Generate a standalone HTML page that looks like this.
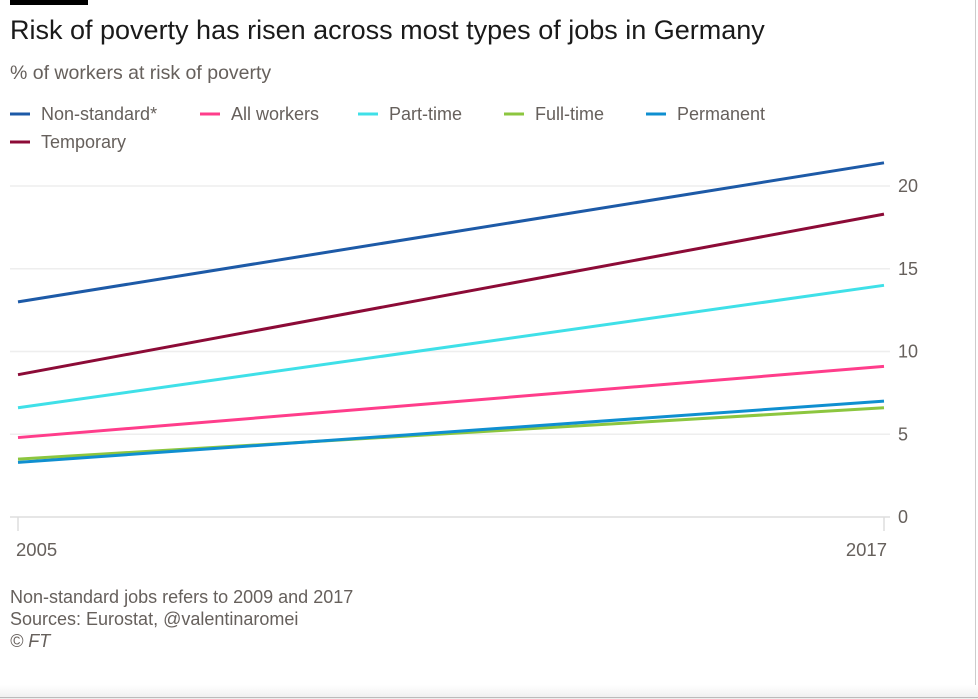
<!DOCTYPE html>
<html><head><meta charset="utf-8"><style>
body{margin:0;background:#fff;}
#wrap{position:relative;width:978px;height:699px;overflow:hidden;background:#fff;font-family:"Liberation Sans",sans-serif;}
.t{position:absolute;white-space:nowrap;}
</style></head><body>
<div id="wrap">
<div style="position:absolute;left:10px;top:0;width:78px;height:5px;background:#000"></div>
<div class="t" style="left:10px;top:15px;font-size:27px;color:#1a1a1a">Risk of poverty has risen across most types of jobs in Germany</div>
<div class="t" style="left:10px;top:62px;font-size:19.5px;color:#66605c">% of workers at risk of poverty</div>
<svg id="chart" width="978" height="699" style="position:absolute;left:0;top:0"></svg>
<div class="t" style="left:10px;top:586px;font-size:18px;color:#66605c;line-height:22px">Non-standard jobs refers to 2009 and 2017<br>Sources: Eurostat, @valentinaromei<br><i>© FT</i></div>
<div style="position:absolute;right:2px;top:0;width:1px;height:699px;background:#ccc"></div>
<div style="position:absolute;left:0;bottom:0;width:978px;height:14px;background:linear-gradient(#fff,#eee)"></div>
<div style="position:absolute;left:0;bottom:1px;width:978px;height:1px;background:#bbb"></div>
</div>
<script>
const years=[2005,2017];
const seriesNames=["Non-standard*","All workers","Part-time","Full-time","Permanent","Temporary"];
const nonStandard=[13.0,21.4];
const allWorkers=[4.8,9.1];
const partTime=[6.6,14.0];
const fullTime=[3.5,6.6];
const permanent=[3.3,7.0];
const temporary=[8.6,18.3];
const yTicks=[0,5,10,15,20];
const xTickLabels=["2005","2017"];
const colors=["#1d5aa7","#ff3d8b","#3fe0e8","#8cc63f","#0f8fd0","#8c0b37"];
const seriesData=[nonStandard,allWorkers,partTime,fullTime,permanent,temporary];
const NS="http://www.w3.org/2000/svg";
const svg=document.getElementById('chart');
const x=v=>18+(v-2005)/(2017-2005)*866;
const y=v=>517-v*16.55;
function mk(tag,at){const e=document.createElementNS(NS,tag);for(const k in at)e.setAttribute(k,at[k]);svg.appendChild(e);return e;}
yTicks.forEach(t=>{
 const l=mk('line',{x1:10,x2:890,y1:y(t),y2:y(t),stroke:t===0?'#ddd':'#eee','stroke-width':1.5});
 
 
 const tx=mk('text',{x:898,y:y(t)+6,'font-size':18,fill:'#66605c','font-family':'Liberation Sans, sans-serif'});
 tx.textContent=t;
 
 
});
years.forEach((yr,i)=>{
 const l=mk('line',{x1:x(yr),x2:x(yr),y1:517,y2:531,stroke:'#ddd','stroke-width':1.5});
 
 
 const tx=mk('text',{x:i===0?16:887,y:556,'font-size':18.5,fill:'#66605c','text-anchor':i===0?'start':'end','font-family':'Liberation Sans, sans-serif'});
 tx.textContent=xTickLabels[i];
 
 
});
const drawOrder=[1,2,5,0,3,4];
drawOrder.forEach(s=>{
 const d=seriesData[s];
 const pts=years.map((yr,i)=>x(yr)+','+y(d[i])).join(' ');
 const pl=mk('polyline',{points:pts,fill:'none',stroke:colors[s],'stroke-width':3});
 
 
});
const legendPos=[[10,114],[200,114],[358,114],[504,114],[646,114],[10,142]];
seriesNames.forEach((n,i)=>{
 const [lx,ly]=legendPos[i];
 const g=mk('g',{});
 
 
 const r=document.createElementNS(NS,'rect');
 r.setAttribute('x',lx);r.setAttribute('y',ly-1.5);r.setAttribute('width',20);r.setAttribute('height',3);r.setAttribute('fill',colors[i]);
 g.appendChild(r);
 const t=document.createElementNS(NS,'text');
 t.setAttribute('x',lx+31);t.setAttribute('y',ly+6);t.setAttribute('font-size',18);t.setAttribute('fill','#66605c');t.setAttribute('font-family','Liberation Sans, sans-serif');
 t.textContent=n;g.appendChild(t);
});
</script>
</body></html>
